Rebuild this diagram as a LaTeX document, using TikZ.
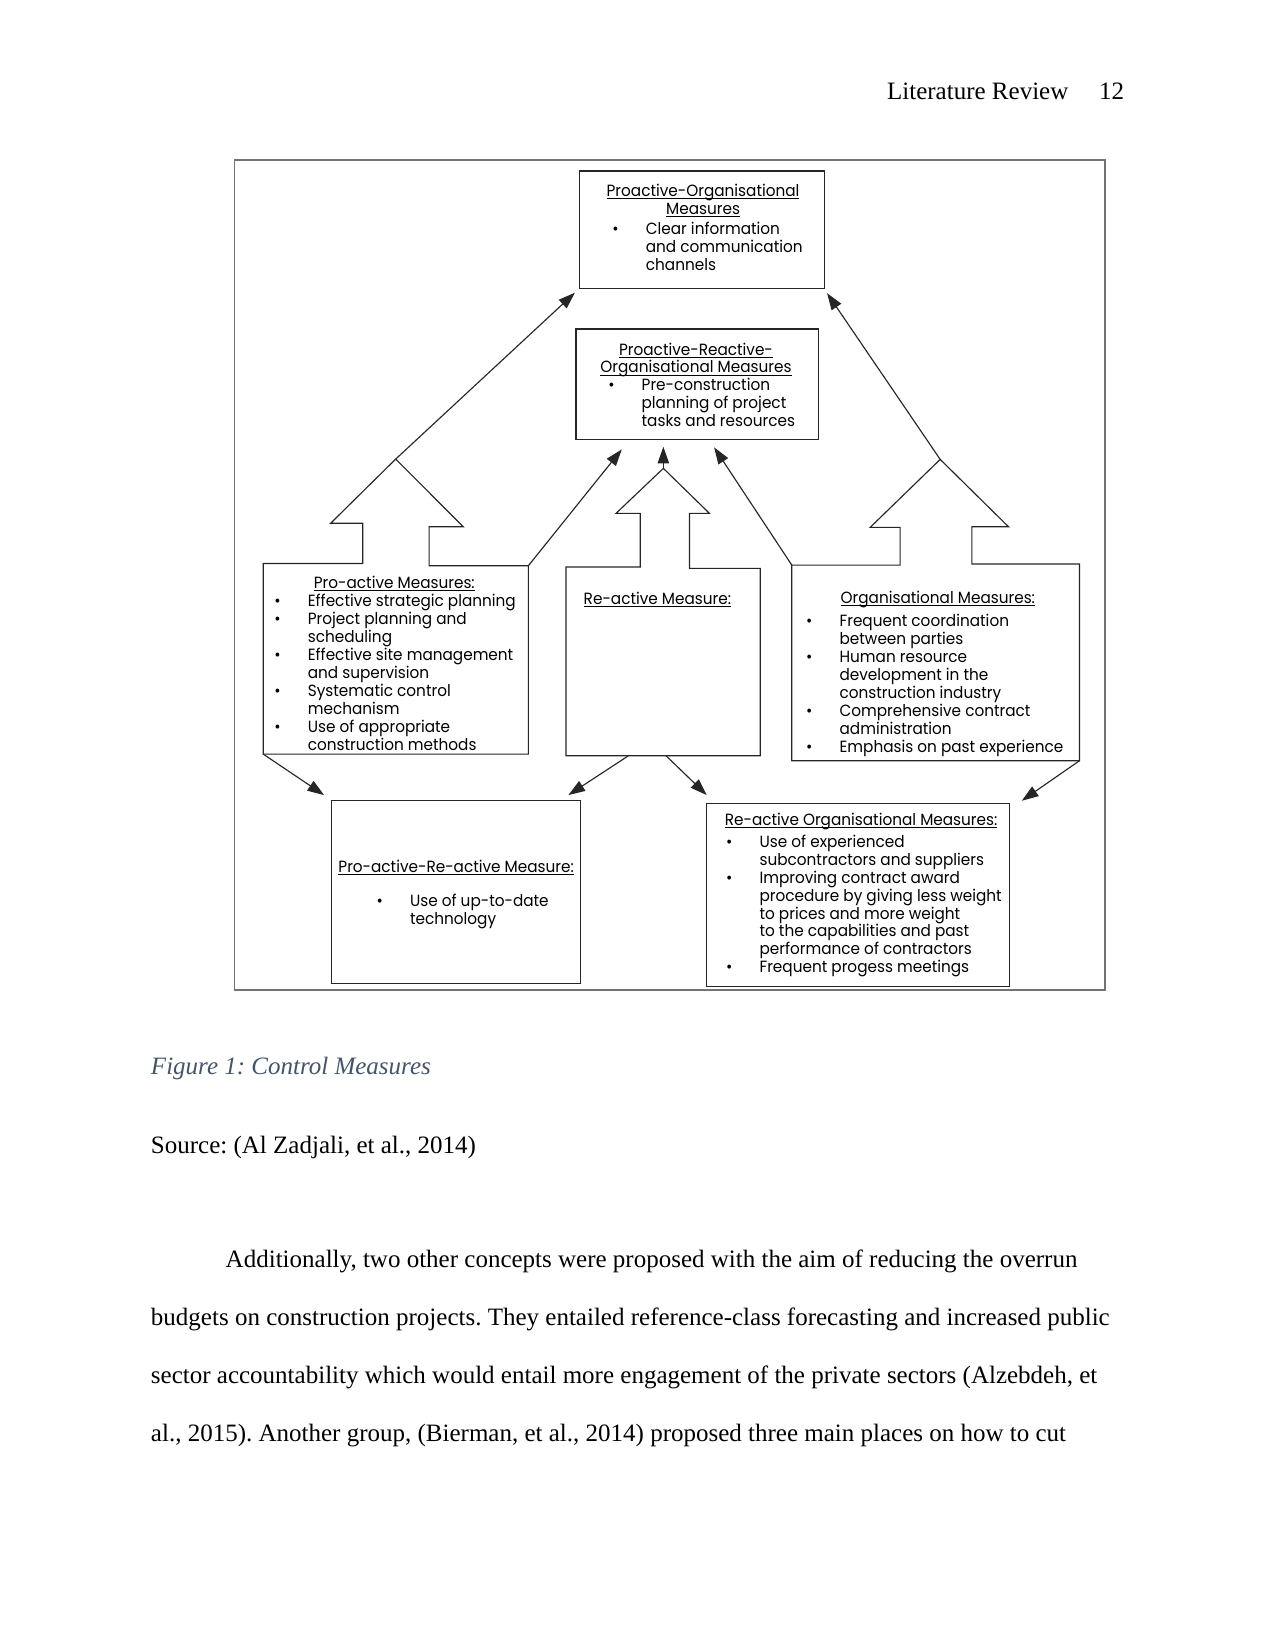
\documentclass[tikz,border=0pt]{standalone}
\usepackage{fontspec}
\setmainfont{Liberation Serif}
\newfontfamily\gfont[FakeStretch=0.94]{Poppins}
\usetikzlibrary{arrows.meta,fit}
\definecolor{capblue}{RGB}{68,84,106}
\frenchspacing
\newcommand{\blk}[1]{\begin{tabular}[t]{@{}l@{}}#1\end{tabular}}
\newcommand{\cblk}[1]{\begin{tabular}[t]{@{}c@{}}#1\end{tabular}}
\newcommand{\bu}{\llap{\textbullet\hspace{13pt}}}
\newcommand{\ul}[1]{\leavevmode\setbox0=\hbox{#1}\rlap{\rule[-1.2pt]{\wd0}{0.45pt}}\box0}
\begin{document}
\begin{tikzpicture}[x=0.50537pt,y=-0.50537pt,
  frame/.style={draw=black!55, line width=0.9pt, inner sep=0pt},
  bx/.style={draw=black!85, line width=0.55pt, inner sep=0pt},
  outline/.style={draw=black!85, line width=0.55pt, line join=miter},
  arr/.style={draw=black!85, line width=0.55pt, -{Triangle[length=8pt,width=5.5pt]}},
  gt/.style={font=\gfont\fontsize{7.8}{8.6}\selectfont, inner sep=0pt, anchor=base west},
  gtc/.style={gt, anchor=base},
  body/.style={font=\fontsize{12}{14}\selectfont, inner sep=0pt, anchor=base west},
]
\useasboundingbox (0,0) rectangle (1211,1568);

% page header
\node[body, anchor=base east] (hdr) at (1015,94.3) {Literature Review};
\node[body, anchor=base east] (pg) at (1068,94.3) {12};

% figure frame
\node[frame, fit={(222.7,152)(1049.6,940.4)}] (fig) {};

% rectangular boxes
\node[bx, fit={(550.4,162.4)(783,273.9)}] (po) {};
\node[bx, fit={(547,312.5)(777.7,417)}] (pro) {};
\node[bx, fit={(314.6,760.5)(551.5,934)}] (prm) {};
\node[bx, fit={(670.6,762.7)(958.8,937)}] (rom) {};

% boxes with up-arrow tops
\draw[outline] (250,716.2) -- (250,535.1) -- (344.5,535.1) -- (344.5,497) -- (314,497) -- (375.8,436) -- (440,500.3) -- (407.5,500.3) -- (407.5,537.3) -- (501.8,537.3) -- (501.8,716.2) -- cycle;
\coordinate (paApex) at (375.8,436);
\coordinate (paTR) at (501.8,537.3);
\coordinate (paBL) at (250,716.2);

\draw[outline] (537.6,717.8) -- (537.6,538.5) -- (608,538.5) -- (608,487.6) -- (585,487.6) -- (630,444.8) -- (673.8,487.6) -- (654.8,487.6) -- (654.8,539.8) -- (722,539.8) -- (722,717.8) -- cycle;
\coordinate (raApex) at (630,444.8);
\coordinate (raB1) at (596.8,717.8);
\coordinate (raB2) at (632.6,717.8);

\draw[outline] (752,722.5) -- (752,536.7) -- (854.9,536.7) -- (854.9,500.9) -- (826.4,500.9) -- (892.9,436.3) -- (957.8,500.3) -- (923,500.3) -- (923,535.7) -- (1025.2,535.7) -- (1025.2,722.5) -- cycle;
\coordinate (orgApex) at (892.9,436.3);
\coordinate (orgTL) at (752,536.7);
\coordinate (orgBR) at (1025.2,722.5);

% arrow tips
\coordinate (t1) at (546,278);
\coordinate (t2) at (630,424.3);
\coordinate (t3) at (785.5,278.5);
\coordinate (t4) at (590.5,426.8);
\coordinate (t5) at (678.2,424.9);
\coordinate (t6) at (307.8,755.1);
\coordinate (t7) at (539.8,755.1);
\coordinate (t8) at (671.2,755.1);
\coordinate (t9) at (970.4,760.5);

\draw[arr] (paApex) -- (t1);
\draw[arr] (raApex) -- (t2);
\draw[arr] (orgApex) -- (t3);
\draw[arr] (paTR) -- (t4);
\draw[arr] (orgTL) -- (t5);
\draw[arr] (paBL) -- (t6);
\draw[arr] (raB1) -- (t7);
\draw[arr] (raB2) -- (t8);
\draw[arr] (orgBR) -- (t9);

% texts
\node[gtc] (poT) at (667.7,186.8) {\cblk{\ul{Proactive-Organisational}\\\ul{Measures}}};
\node[gt] (poL) at (613,222.6) {\blk{\bu Clear information\\and communication\\channels}};

\node[gtc] (proT) at (661,337.2) {\cblk{\ul{Proactive-Reactive-}\\\ul{Organisational Measures}}};
\node[gt] (proL) at (609,371) {\blk{\bu Pre-construction\\planning of project\\tasks and resources}};

\node[gtc] (paT) at (374.5,558.8) {\ul{Pro-active Measures:}};
\node[gt] (paL) at (292,576.2) {\blk{\bu Effective strategic planning\\ \bu Project planning and\\scheduling\\ \bu Effective site management\\and supervision\\ \bu Systematic control\\mechanism\\ \bu Use of appropriate\\construction methods}};

\node[gt] (raT) at (554,573.7) {\ul{Re-active Measure:}};

\node[gt] (orgT) at (798,573) {\ul{Organisational Measures:}};
\node[gt] (orgL) at (797,595.2) {\blk{\bu Frequent coordination\\between parties\\ \bu Human resource\\development in the\\construction industry\\ \bu Comprehensive contract\\administration\\ \bu Emphasis on past experience}};

\node[gt] (prmT) at (321,828.6) {\ul{Pro-active-Re-active Measure:}};
\node[gt] (prmL) at (389,861.2) {\blk{\bu Use of up-to-date\\technology}};

\node[gt] (romT) at (688,784.3) {\ul{Re-active Organisational Measures:}};
\node[gt] (romL) at (721,804.8) {\blk{\bu Use of experienced\\subcontractors and suppliers\\ \bu Improving contract award\\procedure by giving less weight\\to prices and more weight\\to the capabilities and past\\performance of contractors\\ \bu Frequent progess meetings}};

% caption and body text
\node[body, text=capblue, font=\itshape\fontsize{12}{14}\selectfont] (cap) at (143,1020.6) {Figure 1: Control Measures};
\node[body] (src) at (143,1095.2) {Source: (Al Zadjali, et al., 2014)};
\node[body] (l1) at (214,1203.8) {Additionally, two other concepts were proposed with the aim of reducing the overrun};
\node[body] (l2) at (143,1258.8) {budgets on construction projects. They entailed reference-class forecasting and increased public};
\node[body] (l3) at (143,1313.8) {sector accountability which would entail more engagement of the private sectors (Alzebdeh, et};
\node[body] (l4) at (143,1368.8) {al., 2015). Another group, (Bierman, et al., 2014) proposed three main places on how to cut};
\end{tikzpicture}
\end{document}
